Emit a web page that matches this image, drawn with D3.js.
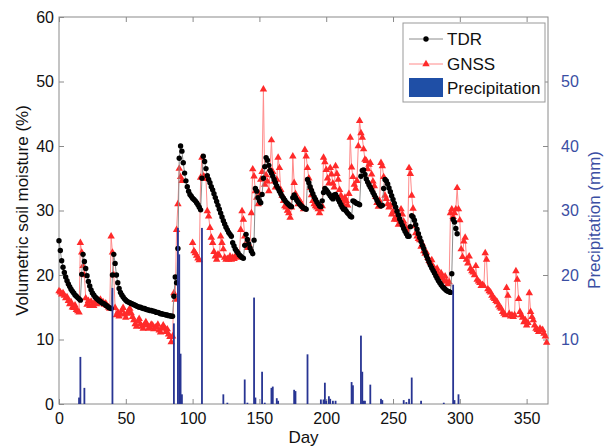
<!DOCTYPE html>
<html><head><meta charset="utf-8">
<script src="https://cdn.jsdelivr.net/npm/d3@7/dist/d3.min.js"></script>
<style>
html,body{margin:0;padding:0;background:#fff;}
svg{display:block;font-family:"Liberation Sans",Arial,Helvetica,sans-serif;}
</style></head>
<body><svg id="c" width="606" height="448"></svg>
<script>
// TDR volumetric soil moisture (%), index = day (0..298)
const tdr = [
25.3,23.8,22.2,21.2,20.4,19.7,19.1,18.6,18.2,17.8,17.5,17.2,16.9,16.7,16.5,16.3,16.1,20.1,23.2,22.1,
21.0,19.9,19.0,18.3,17.7,17.2,16.9,16.6,16.4,16.2,16.0,15.9,15.7,15.6,15.5,15.3,15.2,15.0,14.9,14.8,
20.0,23.2,21.8,20.0,18.8,17.9,17.3,16.9,16.6,16.3,16.1,15.9,15.8,15.7,15.6,15.5,15.4,15.3,15.2,15.1,
15.0,15.0,14.9,14.8,14.8,14.7,14.6,14.6,14.5,14.5,14.4,14.4,14.3,14.2,14.2,14.1,14.0,14.0,13.9,13.9,
13.8,13.8,13.7,13.7,13.6,13.6,16.7,19.7,18.8,24.1,38.1,40.0,39.2,37.4,35.8,34.6,33.7,33.0,32.5,32.2,
31.9,31.7,31.5,31.2,30.9,30.5,30.1,35.0,38.4,37.6,36.5,35.4,34.8,34.3,33.7,33.2,32.6,32.0,31.4,30.8,
30.2,29.6,29.0,28.4,27.9,27.4,27.0,26.6,26.3,26.0,25.0,24.5,24.0,23.7,23.4,23.1,22.9,22.7,22.6,24.6,
26.3,25.5,24.8,24.2,23.7,23.3,25.4,33.4,33.0,32.0,31.5,31.2,32.5,35.0,36.8,38.2,37.8,37.0,36.2,35.8,
35.3,34.8,34.3,33.8,33.4,33.0,32.6,32.2,31.9,31.6,31.3,31.1,30.9,30.7,30.6,32.0,32.4,32.0,31.6,31.3,
31.0,30.8,30.6,30.4,30.3,30.2,34.8,34.3,33.7,33.1,32.6,32.1,31.7,31.3,31.0,30.7,30.6,31.5,32.8,33.4,
33.2,32.9,32.6,32.3,32.0,31.8,32.4,32.5,32.1,31.7,31.3,30.9,30.5,30.2,30.2,29.9,29.6,29.4,29.1,29.0,
31.5,31.4,31.2,31.1,31.0,30.9,35.3,36.2,36.3,35.6,34.9,34.4,34.0,33.6,33.2,32.8,32.4,32.0,31.6,31.2,
30.9,30.7,30.8,33.4,34.8,34.6,34.1,33.5,32.9,32.3,31.7,31.1,30.5,29.9,29.3,28.7,28.2,27.7,27.2,26.8,
26.4,26.0,26.0,27.5,29.2,29.0,28.5,27.8,27.1,26.4,25.8,25.2,24.6,24.1,23.5,23.0,22.5,22.0,21.5,21.1,
20.7,20.3,19.9,19.5,19.1,18.8,18.5,18.2,18.0,17.8,17.6,17.5,17.4,17.3,20.2,28.6,28.2,27.2,26.4
];
// GNSS volumetric soil moisture (%), index = day (0..365); null = no retrieval
const gnss = [
17.5,17.3,17.0,17.2,16.8,16.4,16.6,16.0,15.5,15.8,15.0,14.9,15.3,14.6,14.4,14.2,25.0,23.5,21.4,20.0,
16.4,15.4,16.0,15.2,15.9,15.3,15.2,15.9,15.5,15.7,16.0,16.2,15.6,15.8,15.4,15.6,15.2,15.0,14.8,26.0,
23.5,20.0,14.9,13.8,14.2,13.6,14.0,14.5,14.9,13.9,13.4,14.0,14.4,14.8,14.1,13.5,13.0,12.4,12.0,12.8,
13.2,12.4,12.0,11.7,12.3,12.7,12.2,11.7,11.9,12.3,12.2,11.6,11.9,11.9,12.3,11.4,11.1,11.7,12.2,11.8,
11.2,11.6,10.8,10.4,9.6,10.5,17.2,16.2,27.0,31.0,36.5,35.2,34.6,null,null,null,null,null,null,null,
25.0,23.7,23.4,23.0,22.6,22.3,35.1,38.2,35.3,35.2,34.9,29.9,29.1,27.3,25.8,25.0,23.6,22.9,22.4,23.2,
23.0,26.0,25.0,24.0,22.7,22.4,22.5,22.4,22.9,22.4,22.7,22.5,22.9,23.1,22.7,22.8,27.0,29.9,28.6,26.0,
25.0,24.2,24.8,24.2,29.6,36.4,35.3,33.0,32.0,31.0,32.5,34.8,36.0,48.8,34.0,35.5,34.5,33.0,36.4,40.9,
36.0,34.5,33.6,34.8,38.2,36.6,33.2,32.3,31.5,30.7,30.5,30.0,29.6,28.9,30.5,38.4,34.3,32.6,32.0,31.0,
31.6,31.2,30.7,30.2,39.4,38.4,36.6,35.0,33.5,32.4,31.5,31.0,30.7,30.5,30.2,29.6,30.2,30.7,38.2,37.5,
36.3,35.0,34.2,36.6,35.6,34.2,33.6,36.9,35.7,34.8,33.2,32.3,31.7,31.0,32.0,31.5,30.8,32.6,41.3,36.7,
35.2,34.0,33.4,34.6,40.0,43.9,42.0,41.3,39.5,37.9,37.7,36.4,37.1,37.4,35.6,34.5,33.8,32.1,31.2,30.6,
31.5,37.4,36.9,35.2,32.3,31.8,31.0,30.5,30.8,29.4,29.8,28.6,29.0,28.6,27.8,28.5,30.2,29.4,28.3,27.6,
27.2,26.5,36.6,35.7,32.3,30.3,27.6,26.5,26.0,25.6,25.4,24.4,24.8,23.7,23.3,23.5,22.7,22.2,21.9,22.3,
21.3,21.0,20.5,21.0,20.2,19.8,20.3,19.5,19.0,19.8,19.0,18.6,18.9,29.6,30.2,29.0,29.6,30.2,33.5,30.2,
28.5,24.0,22.8,25.2,25.8,22.4,21.8,22.9,21.0,20.6,20.4,20.0,21.4,19.3,19.0,18.8,18.3,18.5,18.3,23.4,
22.4,17.8,17.5,17.3,16.8,16.5,16.3,16.0,15.8,15.3,15.0,14.8,14.3,14.0,13.8,18.0,16.8,14.0,13.6,13.8,
13.5,13.8,20.6,19.3,16.3,14.3,13.8,13.4,12.7,13.0,12.2,12.6,17.2,14.3,13.5,13.0,12.2,11.7,11.5,11.2,
11.7,11.4,11.5,10.9,10.5,9.5
];
// Precipitation (mm)
const precipDay = [15,16,19,40,86,89,90,91,92,107,123,126,139,141,146,147,152,154,159,160,163,164,176,177,186,
  196,198,199,200,202,203,205,207,219,220,226,227,228,229,233,241,242,258,260,262,264,271,288,295,296,299];
const precipMm = [1.0,7.3,2.5,18.0,12.5,27.3,23.2,7.8,1.5,27.3,1.5,0.2,3.8,0.2,16.5,1.0,5.0,0.2,2.5,2.7,0.9,0.5,2.2,2.0,7.7,
  0.7,0.7,3.3,0.5,1.2,0.8,0.5,0.5,3.4,2.9,10.6,5.0,0.5,0.5,3.0,0.8,0.6,0.6,0.3,0.8,4.1,0.5,0.2,18.5,0.6,1.5];
const xTicks = [0,50,100,150,200,250,300,350];
const yTicks = [0,10,20,30,40,50,60];
const yRightTicks = [10,20,30,40,50];
const legendLabels = ["TDR","GNSS","Precipitation"];

const svg = d3.select("#c");
const L=59, R=548, T=17, B=404;
const x = d3.scaleLinear().domain([0,366]).range([L,R]);
const y = d3.scaleLinear().domain([0,60]).range([B,T]);
const yR = d3.scaleLinear().domain([0,60]).range([B,T]);
const axisCol = "#8a8a8a";
const blue = "#3a4ea3";

svg.append("rect").attr("x",L).attr("y",T).attr("width",R-L).attr("height",B-T)
  .attr("fill","#fff").attr("stroke",axisCol).attr("stroke-width",1);

function styleAxis(g, col){
  g.select(".domain").remove();
  g.selectAll(".tick line").attr("stroke",axisCol);
  g.selectAll(".tick text").attr("fill",col).style("font-size","16px")
   .style("font-family","'Liberation Sans',Arial,sans-serif");
}
styleAxis(svg.append("g").attr("transform",`translate(0,${B})`)
  .call(d3.axisBottom(x).tickValues(xTicks).tickSize(-5).tickPadding(9)), "#111");
styleAxis(svg.append("g").attr("transform",`translate(0,${T})`)
  .call(d3.axisTop(x).tickValues(xTicks).tickSize(-5).tickFormat("")), "#111");
styleAxis(svg.append("g").attr("transform",`translate(${L},0)`)
  .call(d3.axisLeft(y).tickValues(yTicks).tickSize(-5).tickPadding(5)), "#111");
styleAxis(svg.append("g").attr("transform",`translate(${R},0)`)
  .call(d3.axisRight(yR).tickValues(yRightTicks).tickSize(-5).tickPadding(13)), blue);

svg.append("text").attr("x",(L+R)/2).attr("y",443).attr("text-anchor","middle")
  .style("font-size","17px").attr("fill","#111").text("Day");
svg.append("text").attr("transform",`translate(28,${(T+B)/2}) rotate(-90)`).attr("text-anchor","middle")
  .style("font-size","17px").attr("fill","#111").text("Volumetric soil moisture (%)");
svg.append("text").attr("transform",`translate(600,220) rotate(-90)`).attr("text-anchor","middle")
  .style("font-size","17px").attr("fill",blue).text("Precipitation (mm)");

const plot = svg.append("g");
const gData = gnss.map((v,i)=>({d:i,v:v}));
plot.append("path").datum(gData)
  .attr("d", d3.line().defined(p=>p.v!=null).x(p=>x(p.d)).y(p=>y(p.v)))
  .attr("fill","none").attr("stroke","#ff8a8a").attr("stroke-width",1);
plot.selectAll(".tri").data(gData.filter(p=>p.v!=null)).join("path").attr("class","tri")
  .attr("d", d3.symbol(d3.symbolTriangle).size(24))
  .attr("transform",p=>`translate(${x(p.d)},${y(p.v)})`).attr("fill","#ff2a2a");
const tData = tdr.map((v,i)=>({d:i,v:v}));
plot.append("path").datum(tData)
  .attr("d", d3.line().x(p=>x(p.d)).y(p=>y(p.v)))
  .attr("fill","none").attr("stroke","#8c8c8c").attr("stroke-width",1);
plot.selectAll(".dot").data(tData).join("circle").attr("class","dot")
  .attr("cx",p=>x(p.d)).attr("cy",p=>y(p.v)).attr("r",2.7).attr("fill","#000");
const pData = precipDay.map((d,i)=>({d:d,v:precipMm[i]}));
plot.selectAll(".bar").data(pData).join("rect").attr("class","bar")
  .attr("x",p=>x(p.d)-0.9).attr("width",1.8)
  .attr("y",p=>yR(p.v)).attr("height",p=>B-yR(p.v)).attr("fill","#283593");

const lg = svg.append("g");
lg.append("rect").attr("x",403).attr("y",23).attr("width",142).attr("height",79)
  .attr("fill","#fff").attr("stroke","#999").attr("stroke-width",1);
const rows=[39,64,88];
lg.append("line").attr("x1",409).attr("x2",443).attr("y1",rows[0]).attr("y2",rows[0]).attr("stroke","#8c8c8c");
lg.append("circle").attr("cx",426).attr("cy",rows[0]).attr("r",2.7).attr("fill","#000");
lg.append("line").attr("x1",409).attr("x2",443).attr("y1",rows[1]).attr("y2",rows[1]).attr("stroke","#ff8a8a");
lg.append("path").attr("d",d3.symbol(d3.symbolTriangle).size(24)).attr("transform",`translate(426,${rows[1]})`).attr("fill","#ff2a2a");
lg.append("rect").attr("x",409).attr("y",78).attr("width",34).attr("height",19).attr("fill","#1f4fa6");
legendLabels.forEach((t,i)=>{
  lg.append("text").attr("x",447).attr("y",rows[i]).attr("dy","0.36em")
    .style("font-size","17px").attr("fill","#111").text(t);
});
</script></body></html>
